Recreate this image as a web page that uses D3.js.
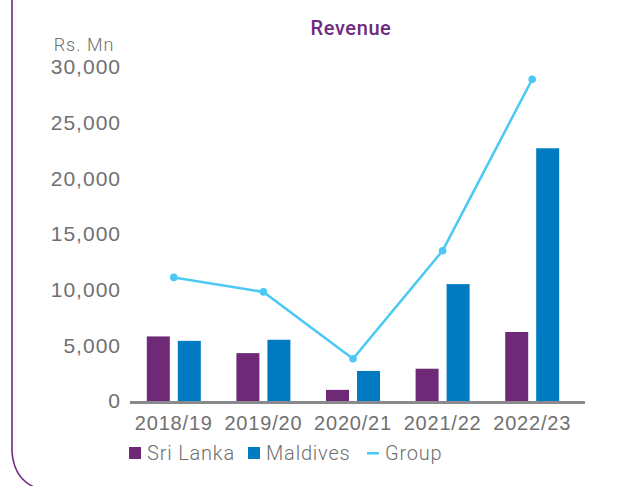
<!DOCTYPE html>
<html lang="en">
<head>
  <meta charset="UTF-8">
  <title>Revenue</title>
  <script src="https://d3js.org/d3.v7.min.js"></script>
  <style>
    body { margin: 0; background: #fff; }
    svg { display: block; font-family: Roboto, "Open Sans", sans-serif; }
    .tick text { fill: #707070; font-size: 20px; font-weight: 300; letter-spacing: 0.8px; }
    .y-axis .tick text { font-size: 21px; letter-spacing: 1px; }
    .legend text { fill: #707070; font-size: 20px; font-weight: 300; letter-spacing: 0.8px; }
  </style>
</head>
<body>
  <svg width="634" height="486"></svg>
  <script>
    const years = ["2018/19", "2019/20", "2020/21", "2021/22", "2022/23"];
    const sriLanka = [5800, 4300, 1000, 2900, 6200];
    const maldives = [5400, 5500, 2700, 10500, 22700];
    const group = [11100, 9800, 3800, 13500, 28900];
    const yTicks = [0, 5000, 10000, 15000, 20000, 25000, 30000];

    const colors = { sl: "#6e2a77", mv: "#007bc2", grp: "#4cc8f4" };

    const svg = d3.select("svg");
    const margin = { top: 67, left: 129, right: 57, bottom: 85 };
    const width = 634 - margin.right;
    const height = 486 - margin.bottom;

    // left border with rounded bottom corner
    svg.append("path")
      .attr("d", "M12,0 V452 Q14,478 34,487")
      .attr("fill", "none")
      .attr("stroke", "#6e2a80")
      .attr("stroke-width", 1.6);

    svg.append("text")
      .attr("x", 351).attr("y", 35)
      .attr("text-anchor", "middle")
      .attr("fill", "#6e2a80")
      .style("font-size", "20px")
      .style("font-weight", 500)
      .style("letter-spacing", "0.6px")
      .text("Revenue");

    svg.append("text")
      .attr("x", 84).attr("y", 51)
      .attr("text-anchor", "middle")
      .attr("fill", "#707070")
      .style("font-size", "18px")
      .style("font-weight", 300)
      .style("letter-spacing", "1px")
      .text("Rs. Mn");

    const x = d3.scaleBand().domain(years).range([margin.left, width]);
    const y = d3.scaleLinear().domain([0, 30000]).range([height, margin.top]);

    // y axis labels
    const yAxis = svg.append("g")
      .attr("class", "y-axis")
      .attr("transform", `translate(${margin.left - 8},0)`)
      .call(d3.axisLeft(y).tickValues(yTicks).tickFormat(d3.format(",")).tickSize(0).tickPadding(0));
    yAxis.select(".domain").remove();

    // x axis
    const xAxis = svg.append("g")
      .attr("transform", `translate(0,${height})`)
      .call(d3.axisBottom(x).tickSize(0).tickPadding(15));
    xAxis.select(".domain").remove();

    // bars
    const barW = 23;
    svg.selectAll(".bar-sl")
      .data(years)
      .enter().append("rect")
      .attr("x", d => x(d) + x.bandwidth() / 2 - 27)
      .attr("y", (d, i) => y(sriLanka[i]))
      .attr("width", barW)
      .attr("height", (d, i) => y(0) - y(sriLanka[i]))
      .attr("fill", colors.sl);

    svg.selectAll(".bar-mv")
      .data(years)
      .enter().append("rect")
      .attr("x", d => x(d) + x.bandwidth() / 2 + 4)
      .attr("y", (d, i) => y(maldives[i]))
      .attr("width", barW)
      .attr("height", (d, i) => y(0) - y(maldives[i]))
      .attr("fill", colors.mv);

    // axis baseline
    svg.append("line")
      .attr("x1", margin.left + 1).attr("x2", width + 8)
      .attr("y1", y(0) + 1.5).attr("y2", y(0) + 1.5)
      .attr("stroke", "#8a8a8e")
      .attr("stroke-width", 3);

    // group line
    const line = d3.line()
      .x((d, i) => x(years[i]) + x.bandwidth() / 2)
      .y(d => y(d));

    svg.append("path")
      .datum(group)
      .attr("d", line)
      .attr("fill", "none")
      .attr("stroke", colors.grp)
      .attr("stroke-width", 2.5);

    svg.selectAll(".dot")
      .data(group)
      .enter().append("circle")
      .attr("cx", (d, i) => x(years[i]) + x.bandwidth() / 2)
      .attr("cy", d => y(d))
      .attr("r", 3.8)
      .attr("fill", colors.grp);

    // legend
    const legend = svg.append("g").attr("class", "legend");
    const items = [
      { name: "Sri Lanka", color: colors.sl, x: 129, type: "rect" },
      { name: "Maldives", color: colors.mv, x: 248, type: "rect" },
      { name: "Group", color: colors.grp, x: 367, type: "line" }
    ];
    items.forEach(it => {
      if (it.type === "rect") {
        legend.append("rect").attr("x", it.x).attr("y", 447).attr("width", 12).attr("height", 12).attr("fill", it.color);
      } else {
        legend.append("rect").attr("x", it.x).attr("y", 452).attr("width", 12).attr("height", 2.5).attr("fill", it.color);
      }
      legend.append("text").attr("x", it.x + 18).attr("y", 460).text(it.name);
    });
  </script>
</body>
</html>
